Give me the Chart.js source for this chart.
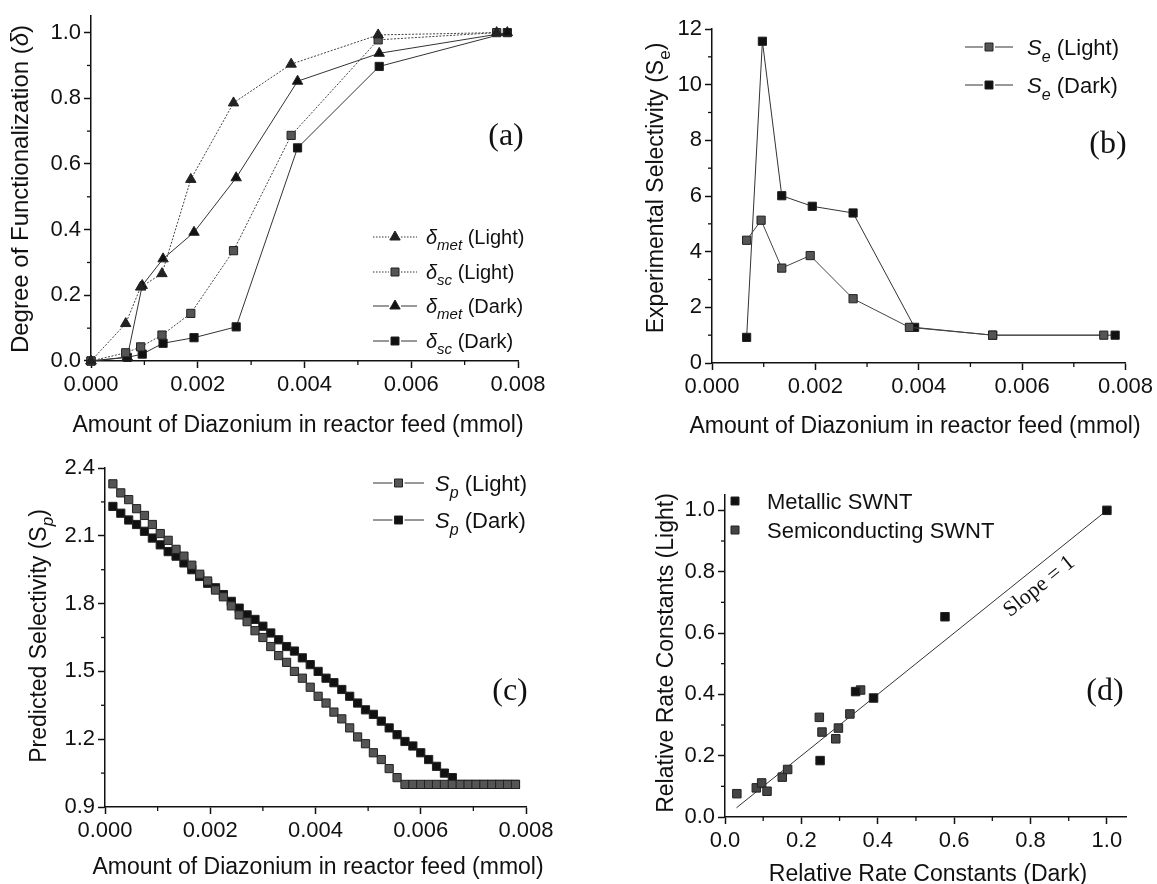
<!DOCTYPE html>
<html>
<head>
<meta charset="utf-8">
<script src="https://cdn.jsdelivr.net/npm/chart.js@4.4.0/dist/chart.umd.min.js"></script>
<style>
  html, body { margin: 0; padding: 0; background: #fff; }
  #wrap { position: relative; width: 1157px; height: 884px; overflow: hidden; background: #fff; }
  #wrap canvas { position: absolute; left: 0; top: 0; }
</style>
</head>
<body>
<div id="wrap">
  <canvas id="pa" width="1157" height="884"></canvas>
  <canvas id="pb" width="1157" height="884"></canvas>
  <canvas id="pc" width="1157" height="884"></canvas>
  <canvas id="pd" width="1157" height="884"></canvas>
</div>
<script>
// (a) degree of functionalization vs diazonium fed
const aLightX   = [0, 0.00065, 0.00093, 0.00133, 0.00187, 0.00267, 0.00375, 0.00538, 0.0076];
const aMetLight = [0, 0.114, 0.225, 0.266, 0.553, 0.786, 0.904, 0.993, 1.0];
const aScLight  = [0, 0.025, 0.043, 0.079, 0.145, 0.336, 0.687, 0.978, 1.0];
const aDarkX    = [0, 0.00068, 0.00096, 0.00135, 0.00193, 0.00272, 0.00387, 0.0054, 0.0078];
const aMetDark  = [0, 0.012, 0.23, 0.311, 0.392, 0.558, 0.852, 0.937, 1.0];
const aScDark   = [0, 0.011, 0.021, 0.054, 0.071, 0.104, 0.649, 0.897, 1.0];

// (b) experimental selectivity
const bLightX = [0.00067, 0.00095, 0.00135, 0.0019, 0.00273, 0.00382, 0.00543, 0.00758];
const bLight  = [4.41, 5.13, 3.41, 3.86, 2.31, 1.28, 1.0, 1.0];
const bDarkX  = [0.00067, 0.000975, 0.00135, 0.00194, 0.00273, 0.00392, 0.00543, 0.0078];
const bDark   = [0.92, 11.56, 6.01, 5.63, 5.39, 1.28, 1.0, 1.0];

// (c) predicted selectivity
const cX = [0.00015, 0.0003, 0.00045, 0.0006, 0.00075, 0.0009, 0.00105, 0.0012, 0.00135, 0.0015,
            0.00165, 0.0018, 0.00195, 0.0021, 0.00225, 0.0024, 0.00255, 0.0027, 0.00285, 0.003,
            0.00315, 0.0033, 0.00345, 0.0036, 0.00375, 0.0039, 0.00405, 0.0042, 0.00435, 0.0045,
            0.00465, 0.0048, 0.00495, 0.0051, 0.00525, 0.0054, 0.00555, 0.0057, 0.00585, 0.006,
            0.00615, 0.0063, 0.00645, 0.0066, 0.00675, 0.0069, 0.00705, 0.0072, 0.00735, 0.0075,
            0.00765, 0.0078];
const cLight = [2.33, 2.29, 2.26, 2.22, 2.19, 2.15, 2.11, 2.08, 2.04, 2.01,
                1.97, 1.93, 1.90, 1.86, 1.83, 1.79, 1.75, 1.72, 1.68, 1.65,
                1.61, 1.57, 1.54, 1.50, 1.47, 1.43, 1.39, 1.36, 1.32, 1.29,
                1.25, 1.21, 1.18, 1.14, 1.11, 1.07, 1.03, 1.00, 1.00, 1.00,
                1.00, 1.00, 1.00, 1.00, 1.00, 1.00, 1.00, 1.00, 1.00, 1.00,
                1.00, 1.00];
const cDark  = [2.23, 2.20, 2.17, 2.15, 2.12, 2.09, 2.06, 2.03, 2.01, 1.98,
                1.95, 1.92, 1.89, 1.87, 1.84, 1.81, 1.78, 1.75, 1.73, 1.70,
                1.67, 1.64, 1.61, 1.59, 1.56, 1.53, 1.50, 1.47, 1.45, 1.42,
                1.39, 1.36, 1.33, 1.31, 1.28, 1.25, 1.22, 1.19, 1.17, 1.14,
                1.11, 1.08, 1.05, 1.03, 1.00, 1.00, 1.00, 1.00, 1.00, 1.00,
                1.00, 1.00];

// (d) relative rate constants, light vs dark
const dMetX  = [0.249, 0.342, 0.389, 0.576, 1.0];
const dMetY  = [0.184, 0.409, 0.388, 0.653, 1.0];
const dSemiX = [0.031, 0.082, 0.096, 0.110, 0.150, 0.164, 0.247, 0.254, 0.290, 0.297, 0.327, 0.355];
const dSemiY = [0.076, 0.095, 0.111, 0.084, 0.130, 0.155, 0.325, 0.277, 0.255, 0.290, 0.336, 0.414];
const dFitX  = [0.03, 1.0];
const dFitY  = [0.03, 1.0];

const INK = '#111';
const GRAY = '#555';
const SANS = '"Liberation Sans", Arial, Helvetica, sans-serif';
const SERIF = '"Liberation Serif", "Times New Roman", serif';
const Y_W = 70, X_H = 45;   // room kept for tick labels

// text with italic / subscript pieces, y = visual middle
function txt(ctx, parts, x, y, size, rot, align) {
  ctx.save();
  ctx.translate(x, y);
  if (rot) ctx.rotate(rot);
  ctx.fillStyle = INK;
  ctx.textBaseline = 'alphabetic';
  ctx.textAlign = 'left';
  const fontOf = p => (p.i ? 'italic ' : '') + Math.round(p.sub ? size * 0.74 : size) + 'px ' + (p.serif ? SERIF : SANS);
  let w = 0;
  parts.forEach(p => { ctx.font = fontOf(p); w += ctx.measureText(p.t).width; });
  let cx = align === 'left' ? 0 : -w / 2;
  parts.forEach(p => {
    ctx.font = fontOf(p);
    ctx.fillText(p.t, cx, size * 0.36 + (p.sub ? size * 0.3 : 0));
    cx += ctx.measureText(p.t).width;
  });
  ctx.restore();
}

function tag(ctx, s, x, y) {
  ctx.save();
  ctx.fillStyle = INK;
  ctx.font = '32px ' + SERIF;
  ctx.textAlign = 'center';
  ctx.textBaseline = 'middle';
  ctx.fillText(s, x, y);
  ctx.restore();
}

function marker(ctx, style, x, y, color) {
  ctx.save();
  ctx.fillStyle = color;
  ctx.strokeStyle = '#222';
  ctx.lineWidth = 1;
  ctx.beginPath();
  if (style === 'triangle') {
    const r = 6;
    ctx.moveTo(x, y - r);
    ctx.lineTo(x + r * 0.866, y + r * 0.5);
    ctx.lineTo(x - r * 0.866, y + r * 0.5);
    ctx.closePath();
  } else {
    ctx.rect(x - 4, y - 4, 8, 8);
  }
  ctx.fill();
  ctx.stroke();
  ctx.restore();
}

function legendRow(ctx, x0, x1, y, style, color, dash, parts, tx, size) {
  const m = (x0 + x1) / 2;
  ctx.save();
  ctx.strokeStyle = '#333';
  ctx.lineWidth = 1;
  ctx.setLineDash(dash || []);
  ctx.beginPath();
  ctx.moveTo(x0, y); ctx.lineTo(m - 6, y);
  ctx.moveTo(m + 6, y); ctx.lineTo(x1, y);
  ctx.stroke();
  ctx.restore();
  if (style) marker(ctx, style, m, y, color);
  txt(ctx, parts, tx, y, size, 0, 'left');
}

function minorTicks(chart, id, step) {
  const s = chart.scales[id], ctx = chart.ctx, a = chart.chartArea;
  ctx.save();
  ctx.strokeStyle = INK;
  ctx.lineWidth = 1.3;
  const n = Math.floor((s.max - s.min) / step + 1e-6);
  for (let k = 1; k <= n; k += 2) {
    const p = s.getPixelForValue(s.min + k * step);
    ctx.beginPath();
    if (s.isHorizontal()) { ctx.moveTo(p, a.bottom); ctx.lineTo(p, a.bottom + 4); }
    else { ctx.moveTo(a.left, p); ctx.lineTo(a.left - 4, p); }
    ctx.stroke();
  }
  ctx.restore();
}

function axis(c, pos) {
  return {
    type: 'linear', position: pos, min: c.min, max: c.max,
    afterFit: s => { if (pos === 'bottom') s.height = X_H; else s.width = Y_W; },
    border: { display: true, color: INK, width: 1.5 },
    grid: { drawOnChartArea: false, drawTicks: true, tickLength: 7, tickColor: INK, tickWidth: 1.5 },
    ticks: {
      stepSize: c.step, autoSkip: false, maxRotation: 0, includeBounds: false,
      padding: pos === 'bottom' ? 4 : 3, color: INK, font: { family: SANS, size: 22 },
      callback: v => Number(v).toFixed(c.dec)
    }
  };
}

function series(xs, ys, o) {
  return Object.assign({
    data: xs.map((x, i) => ({ x: x, y: ys[i] })),
    borderColor: '#333', borderWidth: 1, tension: 0, fill: false, clip: false,
    pointStyle: 'rect', pointRadius: 5.8, pointBorderWidth: 1,
    pointBackgroundColor: INK, pointBorderColor: '#222'
  }, o || {});
}

function makeChart(id, area, xc, yc, datasets, draw) {
  return new Chart(document.getElementById(id), {
    type: 'line',
    data: { datasets: datasets },
    options: {
      responsive: false, animation: false, devicePixelRatio: 1, events: [],
      layout: { padding: { left: area.l - Y_W, top: area.t, right: 1157 - area.r, bottom: 884 - area.b - X_H } },
      plugins: { legend: { display: false }, tooltip: { enabled: false } },
      scales: { x: axis(xc, 'bottom'), y: axis(yc, 'left') }
    },
    plugins: [{ id: 'deco_' + id, afterDraw: c => draw(c, c.ctx) }]
  });
}

const LIGHT_DASH = [2, 1.5];

// ---- (a)
makeChart('pa', { l: 91, r: 518, t: 14.5, b: 361 },
  { min: 0, max: 0.008, step: 0.002, dec: 3 },
  { min: 0, max: 1.05, step: 0.2, dec: 1 },
  [
    series(aLightX, aMetLight, { pointStyle: 'triangle', pointRadius: 6, borderDash: LIGHT_DASH, borderColor: '#444', pointBackgroundColor: '#222' }),
    series(aLightX, aScLight, { borderDash: LIGHT_DASH, borderColor: '#444', pointBackgroundColor: GRAY }),
    series(aDarkX, aMetDark, { pointStyle: 'triangle', pointRadius: 6 }),
    series(aDarkX, aScDark, {})
  ],
  (c, ctx) => {
    minorTicks(c, 'x', 0.001);
    minorTicks(c, 'y', 0.1);
    txt(ctx, [{ t: 'Degree of Functionalization (' }, { t: 'δ', i: true }, { t: ')' }], 19, 189, 24, -Math.PI / 2);
    txt(ctx, [{ t: 'Amount of Diazonium in reactor feed (mmol)' }], 298, 424, 23);
    const lx0 = 373, lx1 = 417, tx = 426, fs = 20;
    legendRow(ctx, lx0, lx1, 237, 'triangle', '#222', [1.5, 1.5], [{ t: 'δ', i: true }, { t: 'met', i: true, sub: true }, { t: ' (Light)' }], tx, fs);
    legendRow(ctx, lx0, lx1, 272, 'rect', GRAY, [1.5, 1.5], [{ t: 'δ', i: true }, { t: 'sc', i: true, sub: true }, { t: ' (Light)' }], tx, fs);
    legendRow(ctx, lx0, lx1, 306, 'triangle', INK, [], [{ t: 'δ', i: true }, { t: 'met', i: true, sub: true }, { t: ' (Dark)' }], tx, fs);
    legendRow(ctx, lx0, lx1, 341, 'rect', INK, [], [{ t: 'δ', i: true }, { t: 'sc', i: true, sub: true }, { t: ' (Dark)' }], tx, fs);
    tag(ctx, '(a)', 506, 137);
  });

// ---- (b)
makeChart('pb', { l: 712, r: 1128, t: 29, b: 363 },
  { min: 0, max: 0.008, step: 0.002, dec: 3 },
  { min: 0, max: 12, step: 2, dec: 0 },
  [
    series(bLightX, bLight, { pointBackgroundColor: GRAY, borderColor: '#444' }),
    series(bDarkX, bDark, {})
  ],
  (c, ctx) => {
    minorTicks(c, 'x', 0.001);
    minorTicks(c, 'y', 1);
    txt(ctx, [{ t: 'Experimental Selectivity (S' }, { t: 'e', sub: true }, { t: ')' }], 655, 188, 23, -Math.PI / 2);
    txt(ctx, [{ t: 'Amount of Diazonium in reactor feed (mmol)' }], 915, 425, 23);
    legendRow(ctx, 965, 1013, 47, 'rect', GRAY, [], [{ t: 'S', i: true }, { t: 'e', i: true, sub: true }, { t: ' (Light)' }], 1027, 22);
    legendRow(ctx, 965, 1013, 85, 'rect', INK, [], [{ t: 'S', i: true }, { t: 'e', i: true, sub: true }, { t: ' (Dark)' }], 1027, 22);
    tag(ctx, '(b)', 1108, 145);
  });

// ---- (c)
makeChart('pc', { l: 105, r: 526, t: 468, b: 807 },
  { min: 0, max: 0.008, step: 0.002, dec: 3 },
  { min: 0.9, max: 2.4, step: 0.3, dec: 1 },
  [
    series(cX, cLight, { pointBackgroundColor: GRAY, borderColor: '#444' }),
    series(cX, cDark, {})
  ],
  (c, ctx) => {
    minorTicks(c, 'x', 0.001);
    minorTicks(c, 'y', 0.15);
    txt(ctx, [{ t: 'Predicted Selectivity (S' }, { t: 'p', i: true, sub: true }, { t: ')' }], 38, 636, 23, -Math.PI / 2);
    txt(ctx, [{ t: 'Amount of Diazonium in reactor feed (mmol)' }], 318, 866, 23);
    legendRow(ctx, 373, 424, 483, 'rect', GRAY, [], [{ t: 'S', i: true }, { t: 'p', i: true, sub: true }, { t: ' (Light)' }], 435, 22);
    legendRow(ctx, 373, 424, 520, 'rect', INK, [], [{ t: 'S', i: true }, { t: 'p', i: true, sub: true }, { t: ' (Dark)' }], 435, 22);
    tag(ctx, '(c)', 510, 692);
  });

// ---- (d)
makeChart('pd', { l: 725, r: 1126, t: 495, b: 817 },
  { min: 0, max: 1.05, step: 0.2, dec: 1 },
  { min: 0, max: 1.05, step: 0.2, dec: 1 },
  [
    series(dMetX, dMetY, { showLine: false, pointRadius: 6 }),
    series(dSemiX, dSemiY, { showLine: false, pointRadius: 6, pointBackgroundColor: '#444' }),
    series(dFitX, dFitY, { pointRadius: 0, borderColor: '#333', borderWidth: 1 })
  ],
  (c, ctx) => {
    minorTicks(c, 'x', 0.1);
    minorTicks(c, 'y', 0.1);
    txt(ctx, [{ t: 'Relative Rate Constants (Light)' }], 665, 653, 23, -Math.PI / 2);
    txt(ctx, [{ t: 'Relative Rate Constants (Dark)' }], 928, 873, 23);
    marker(ctx, 'rect', 735, 501, INK);
    txt(ctx, [{ t: 'Metallic SWNT' }], 767, 501, 22, 0, 'left');
    marker(ctx, 'rect', 735, 530, '#444');
    txt(ctx, [{ t: 'Semiconducting SWNT' }], 767, 530, 22, 0, 'left');
    const xs = c.scales.x, ys = c.scales.y;
    const px = xs.getPixelForValue(0.795), py = ys.getPixelForValue(0.795);
    const ang = Math.atan2(ys.getPixelForValue(0) - ys.getPixelForValue(1), xs.getPixelForValue(1) - xs.getPixelForValue(0));
    const d = 15;
    txt(ctx, [{ t: 'Slope = 1', serif: true }], px + Math.sin(ang) * d, py + Math.cos(ang) * d, 22, -ang);
    tag(ctx, '(d)', 1105, 692);
  });
</script>
</body>
</html>
